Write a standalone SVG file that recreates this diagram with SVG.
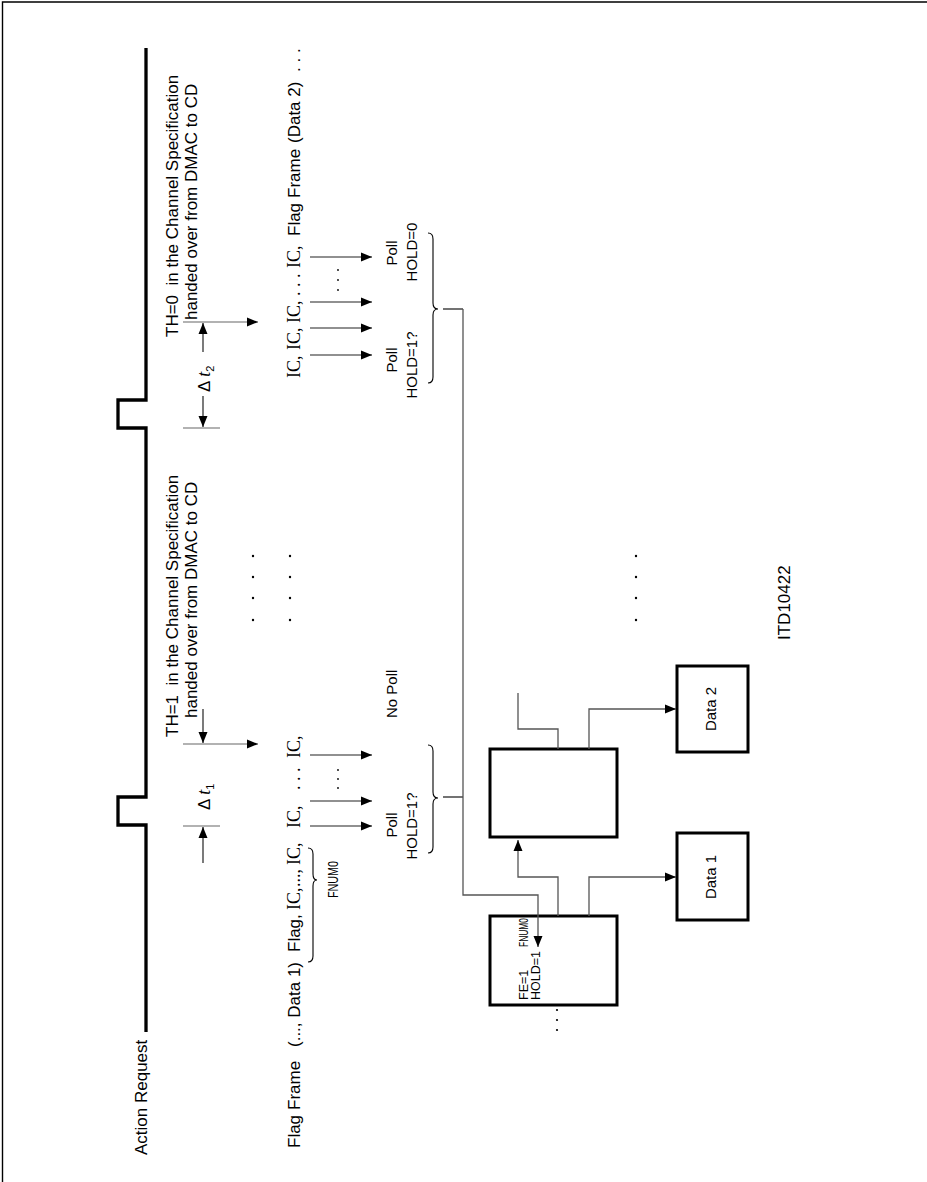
<svg xmlns="http://www.w3.org/2000/svg" width="927" height="1182" viewBox="0 0 927 1182">
<style>
text{font-family:"Liberation Sans",Arial,sans-serif;fill:#000;font-size:17px}
.s{font-family:"Liberation Serif","Times New Roman",serif;font-size:18px}
.p{font-size:15px}
.sm{font-size:12.5px}
.box{fill:#fff;stroke:#000;stroke-width:3}
.gl{fill:none;stroke:#555;stroke-width:1.3}
.bl{fill:none;stroke:#222;stroke-width:1.2}
.tk{fill:none;stroke:#666;stroke-width:1.2}
.br{fill:none;stroke:#000;stroke-width:1.1}
.dot{fill:#000}
</style>
<defs>
<marker id="ah" markerUnits="userSpaceOnUse" markerWidth="12" markerHeight="10" refX="11" refY="4.5" orient="auto" viewBox="0 0 12 9"><path d="M0,0 L11,4.5 L0,9 z" fill="#000"/></marker>
</defs>
<rect width="927" height="1182" fill="#fff"/>
<path d="M2.5,1182 V2 H927" fill="none" stroke="#000" stroke-width="1.4"/>

<g id="action-request">
<path d="M146,48 V400 H118 V428 H146 V797 H118 V825 H146 V1032" fill="none" stroke="#000" stroke-width="3.3"/>
<text transform="translate(147,1155) rotate(-90)">Action Request</text>
</g>

<g id="th0">
<text xml:space="preserve" transform="translate(178,337) rotate(-90)">TH=0  in the Channel Specification</text>
<text transform="translate(197,320) rotate(-90)">handed over from DMAC to CD</text>
</g>
<g id="th1">
<text xml:space="preserve" transform="translate(178,737) rotate(-90)">TH=1  in the Channel Specification</text>
<text transform="translate(197,718) rotate(-90)">handed over from DMAC to CD</text>
</g>

<g id="dt2">
<path class="tk" d="M183,322 H258" marker-end="url(#ah)"/>
<path class="tk" d="M183,428 H220"/>
<path class="bl" d="M203,352 V323" marker-end="url(#ah)"/>
<path class="bl" d="M203,396 V427" marker-end="url(#ah)"/>
<text transform="translate(210,392) rotate(-90)">Δ <tspan class="s" font-style="italic">t</tspan><tspan font-size="11" dy="4">2</tspan></text>
</g>
<g id="dt1">
<path class="tk" d="M183,744 H258" marker-end="url(#ah)"/>
<path class="tk" d="M183,826 H220"/>
<path class="bl" d="M203,709 V743" marker-end="url(#ah)"/>
<path class="bl" d="M203,863 V827" marker-end="url(#ah)"/>
<text transform="translate(210,810) rotate(-90)">Δ <tspan class="s" font-style="italic">t</tspan><tspan font-size="11" dy="4">1</tspan></text>
</g>

<g id="frame-line-1">
<text transform="translate(300,1148) rotate(-90)">Flag</text>
<text transform="translate(300,1110) rotate(-90)">Frame</text>
<text transform="translate(300,1047) rotate(-90)">(..., Data 1)</text>
<text transform="translate(300,952) rotate(-90)">Flag,</text>
<text class="s" transform="translate(300,910) rotate(-90)">IC,</text>
<text class="s" transform="translate(300,887) rotate(-90)">...,</text>
<text class="s" transform="translate(300,865) rotate(-90)">IC,</text>
<text class="s" transform="translate(300,828) rotate(-90)">IC,</text>
<text class="s" transform="translate(300,790) rotate(-90)">. . .</text>
<text class="s" transform="translate(300,758) rotate(-90)">IC,</text>
</g>
<g id="frame-line-2">
<text class="s" transform="translate(300,378) rotate(-90)">IC,</text>
<text class="s" transform="translate(300,350) rotate(-90)">IC,</text>
<text class="s" transform="translate(300,323) rotate(-90)">IC,</text>
<text class="s" transform="translate(300,296) rotate(-90)">. . .</text>
<text class="s" transform="translate(300,268) rotate(-90)">IC,</text>
<text transform="translate(300,236) rotate(-90)">Flag</text>
<text transform="translate(300,198) rotate(-90)">Frame</text>
<text transform="translate(300,143) rotate(-90)">(Data 2)</text>
<text transform="translate(300,72) rotate(-90)">. . .</text>
</g>

<g id="fnum0-brace">
<path class="br" d="M308,962 Q313,962 313,956 V886 Q313,880 317,880 Q313,880 313,874 V854 Q313,848 308,848"/>
<text class="p" textLength="37" lengthAdjust="spacingAndGlyphs" transform="translate(338,898) rotate(-90)">FNUM0</text>
</g>

<g id="dots">
<circle class="dot" cx="253" cy="556" r="1.2"/><circle class="dot" cx="253" cy="577" r="1.2"/><circle class="dot" cx="253" cy="598" r="1.2"/><circle class="dot" cx="253" cy="620" r="1.2"/>
<circle class="dot" cx="290" cy="556" r="1.2"/><circle class="dot" cx="290" cy="577" r="1.2"/><circle class="dot" cx="290" cy="598" r="1.2"/><circle class="dot" cx="290" cy="620" r="1.2"/>
<circle class="dot" cx="636" cy="556" r="1.2"/><circle class="dot" cx="636" cy="577" r="1.2"/><circle class="dot" cx="636" cy="598" r="1.2"/><circle class="dot" cx="636" cy="620" r="1.2"/>
<circle class="dot" cx="338" cy="270" r="0.9"/><circle class="dot" cx="338" cy="280" r="0.9"/><circle class="dot" cx="338" cy="290" r="0.9"/>
<circle class="dot" cx="338" cy="770" r="0.9"/><circle class="dot" cx="338" cy="779" r="0.9"/><circle class="dot" cx="338" cy="788" r="0.9"/>
<circle class="dot" cx="557" cy="1010" r="1.1"/><circle class="dot" cx="557" cy="1020" r="1.1"/><circle class="dot" cx="557" cy="1030" r="1.1"/>
</g>

<g id="ic-arrows">
<path class="bl" d="M310,355 H372" marker-end="url(#ah)"/>
<path class="bl" d="M310,328 H372" marker-end="url(#ah)"/>
<path class="bl" d="M310,302 H372" marker-end="url(#ah)"/>
<path class="bl" d="M310,257 H372" marker-end="url(#ah)"/>
<path class="bl" d="M310,755 H372" marker-end="url(#ah)"/>
<path class="bl" d="M310,801 H372" marker-end="url(#ah)"/>
<path class="bl" d="M310,826 H372" marker-end="url(#ah)"/>
</g>

<g id="poll-right">
<text class="p" text-anchor="middle" transform="translate(397,360) rotate(-90)">Poll</text>
<text class="p" text-anchor="middle" transform="translate(417,365) rotate(-90)">HOLD=1?</text>
<text class="p" text-anchor="middle" transform="translate(397,253) rotate(-90)">Poll</text>
<text class="p" text-anchor="middle" transform="translate(417,252) rotate(-90)">HOLD=0</text>
<path class="br" d="M428,233 Q433,233 433,239 V303 Q433,309 438,309 Q433,309 433,315 V377 Q433,383 428,383"/>
</g>
<g id="poll-left">
<text class="p" text-anchor="middle" transform="translate(397,825) rotate(-90)">Poll</text>
<text class="p" text-anchor="middle" transform="translate(417,826) rotate(-90)">HOLD=1?</text>
<text class="p" transform="translate(397,718) rotate(-90)">No Poll</text>
<path class="br" d="M428,745 Q433,745 433,751 V792 Q433,798 438,798 Q433,798 433,804 V847 Q433,853 428,853"/>
</g>

<g id="box-fe">
<rect class="box" x="490" y="916" width="127" height="89"/>
<text class="sm" transform="translate(528,1000) rotate(-90)">FE=1</text>
<text class="sm" textLength="29" lengthAdjust="spacingAndGlyphs" transform="translate(528,947) rotate(-90)">FNUM0</text>
<text class="sm" transform="translate(540,1000) rotate(-90)">HOLD=1</text>
</g>
<g id="box-mid">
<rect class="box" x="490" y="749" width="127" height="88"/>
</g>
<g id="box-data2">
<rect class="box" x="677" y="666" width="71" height="86"/>
<text class="p" text-anchor="middle" transform="translate(716,709) rotate(-90)">Data 2</text>
</g>
<g id="box-data1">
<rect class="box" x="677" y="833" width="71" height="87"/>
<text class="p" text-anchor="middle" transform="translate(716,877) rotate(-90)">Data 1</text>
</g>

<g id="connectors">
<path class="br" d="M443,309 H463"/>
<path class="br" d="M443,797 H463"/>
<path class="gl" d="M463,309 V895 H538 V947" marker-end="url(#ah)"/>
<path class="gl" d="M558,916 V877 H518 V840" marker-end="url(#ah)"/>
<path class="gl" d="M589,916 V877 H676" marker-end="url(#ah)"/>
<path class="gl" d="M558,749 V729 H518 V693"/>
<path class="gl" d="M589,749 V709 H676" marker-end="url(#ah)"/>
</g>

<text id="itd" font-size="11" transform="translate(790,640) rotate(-90)">ITD10422</text>
</svg>
